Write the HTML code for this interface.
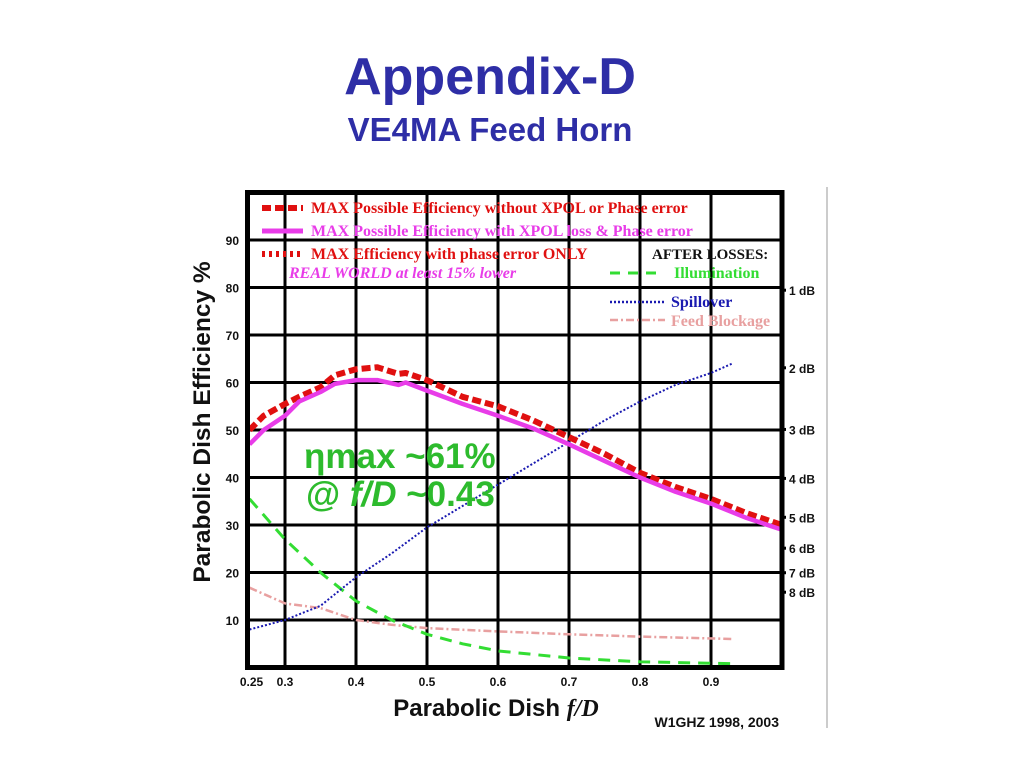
<!DOCTYPE html>
<html><head><meta charset="utf-8"><style>
body{margin:0;background:#fff;width:1024px;height:768px;overflow:hidden;font-family:"Liberation Sans",sans-serif}
</style></head><body>
<svg id="chart" width="1024" height="768" xmlns="http://www.w3.org/2000/svg">
<text x="490" y="94" text-anchor="middle" font-size="52" font-weight="bold" fill="#2e2ea6" font-family="Liberation Sans">Appendix-D</text>
<text x="490" y="141" text-anchor="middle" font-size="33" font-weight="bold" fill="#2e2ea6" font-family="Liberation Sans">VE4MA Feed Horn</text>
<line x1="827" y1="187" x2="827" y2="728" stroke="#999" stroke-width="1"/>
<g id="grid"></g>
<g id="series"></g>
<g id="axes"></g>
<g font-family="Liberation Serif" font-weight="bold" font-size="16">
<line x1="262" y1="208" x2="303" y2="208" stroke="#e01010" stroke-width="6" stroke-dasharray="9,4"/>
<text x="311" y="213" fill="#e01010">MAX Possible Efficiency without XPOL or Phase error</text>
<line x1="262" y1="231" x2="303" y2="231" stroke="#e83ce8" stroke-width="5"/>
<text x="311" y="236" fill="#e83ce8">MAX Possible Efficiency with XPOL loss &amp; Phase error</text>
<line x1="262" y1="254" x2="303" y2="254" stroke="#e01010" stroke-width="6" stroke-dasharray="3,4"/>
<text x="311" y="259" fill="#e01010">MAX Efficiency with phase error ONLY</text>
<text x="289" y="278" fill="#e83ce8" font-style="italic">REAL WORLD at least 15% lower</text>
<text x="652" y="259" fill="#111" font-size="15">AFTER LOSSES:</text>
<line x1="610" y1="273" x2="662" y2="273" stroke="#33dd33" stroke-width="3" stroke-dasharray="10,8"/>
<text x="674" y="278" fill="#33dd33">Illumination</text>
<line x1="610" y1="302" x2="665" y2="302" stroke="#1a1ab0" stroke-width="2.5" stroke-dasharray="2,2"/>
<text x="671" y="307" fill="#1a1ab0">Spillover</text>
<line x1="610" y1="320" x2="665" y2="320" stroke="#e8a0a0" stroke-width="2.5" stroke-dasharray="8,3,2,3"/>
<text x="671" y="326" fill="#e8a0a0">Feed Blockage</text>
</g>
<text x="304" y="468" font-size="35" font-weight="bold" fill="#2dbb2d">ηmax ~61%</text>
<text x="306" y="506" font-size="35" font-weight="bold" fill="#2dbb2d">@ <tspan font-style="italic">f/D</tspan> ~0.43</text>
<text transform="translate(210,422) rotate(-90)" text-anchor="middle" font-size="24.5" font-weight="bold" fill="#111">Parabolic Dish Efficiency %</text>
<text x="496" y="716" text-anchor="middle" font-size="24" font-weight="bold" fill="#111">Parabolic Dish <tspan font-family="Liberation Serif" font-style="italic">f/D</tspan></text>
<text x="779" y="727" text-anchor="end" font-size="14" font-weight="bold" fill="#111">W1GHZ 1998, 2003</text>
</svg>
<script>
const xGrid=[0.3,0.4,0.5,0.6,0.7,0.8,0.9];
const xTickLabels=["0.25","0.3","0.4","0.5","0.6","0.7","0.8","0.9"];
const xTickVals=[0.25,0.3,0.4,0.5,0.6,0.7,0.8,0.9];
const yTicks=[10,20,30,40,50,60,70,80,90];
const dbTicks=[1,2,3,4,5,6,7,8];
const fdA=[0.25,0.27,0.3,0.32,0.35,0.37,0.4,0.43,0.46,0.47,0.5,0.55,0.6,0.65,0.7,0.75,0.8,0.85,0.9,0.95,1.0];
const noXpol=[50,53,55.5,57,59,61.5,62.8,63.2,61.8,62,60.5,57,55,52,48.5,45,41,38,35.5,32.5,30];
const withXpol=[47,50,53,56,58,59.7,60.5,60.5,59.5,60,58.3,55.5,53,50.3,47,43.5,40,37,34.5,31.5,29];
const fdS=[0.25,0.3,0.35,0.4,0.45,0.5,0.55,0.6,0.65,0.7,0.75,0.8,0.85,0.9,0.93];
const spillover=[8,10,13,19,24,29.5,34,38.5,43,47.5,52,56,59.5,62,64];
const fdI=[0.25,0.3,0.35,0.4,0.45,0.5,0.55,0.6,0.7,0.8,0.93];
const illumination=[35.5,27,20,14,10,7,5,3.5,2,1.2,0.8];
const fdB=[0.25,0.3,0.35,0.4,0.45,0.5,0.6,0.7,0.8,0.93];
const blockage=[16.8,13.5,12.5,10,9,8.3,7.6,7,6.5,6];

const NS="http://www.w3.org/2000/svg";
const X=f=>249.5+(f-0.25)*710;
const Y=v=>667.5-4.75*v;
function mk(p,tag,at){const e=document.createElementNS(NS,tag);for(const k in at)e.setAttribute(k,at[k]);p.appendChild(e);return e;}
const grid=document.getElementById('grid'),ser=document.getElementById('series'),ax=document.getElementById('axes');
xGrid.forEach(f=>{const l=mk(grid,'line',{x1:X(f),y1:Y(100),x2:X(f),y2:Y(0),stroke:'#000','stroke-width':3});

});
yTicks.forEach(v=>{const l=mk(grid,'line',{x1:X(0.25),y1:Y(v),x2:X(1.0),y2:Y(v),stroke:'#000','stroke-width':3});

});
const fr=mk(ax,'rect',{x:X(0.25)-2,y:Y(100),width:X(1.0)-X(0.25)+2,height:Y(0)-Y(100),fill:'none',stroke:'#000','stroke-width':5});


yTicks.forEach(v=>{const t=mk(ax,'text',{x:239,y:Y(v)+5,'text-anchor':'end','font-size':12,'font-weight':'bold',fill:'#111'});t.textContent=v;

});
xTickVals.forEach((f,i)=>{const t=mk(ax,'text',{x:X(f)+(i==0?2:0),y:686,'text-anchor':'middle','font-size':12,'font-weight':'bold',fill:'#111'});t.textContent=xTickLabels[i];

});
dbTicks.forEach(d=>{const v=100*Math.pow(10,-d/10);const y=Y(v);
const m=mk(ax,'line',{x1:781,y1:y,x2:786,y2:y,stroke:'#000','stroke-width':3});


const t=mk(ax,'text',{x:789,y:y+5,'font-size':12,'font-weight':'bold',fill:'#111'});t.textContent=d+' dB';

});
function line(xs,ys,name,st){const d=xs.map((f,i)=>(i?'L':'M')+X(f).toFixed(1)+','+Y(ys[i]).toFixed(1)).join('');
const p=mk(ser,'path',Object.assign({d:d,fill:'none','stroke-linejoin':'round'},st));

}
line(fdB,blockage,'feed-blockage-line',{stroke:'#e8a0a0','stroke-width':2.5,'stroke-dasharray':'8,3,2,3'});
line(fdI,illumination,'illumination-line',{stroke:'#33dd33','stroke-width':3,'stroke-dasharray':'12,8'});
line(fdS,spillover,'spillover-line',{stroke:'#1a1ab0','stroke-width':2,'stroke-dasharray':'2,2'});
line(fdA,noXpol,'no-xpol-efficiency-line',{stroke:'#e01010','stroke-width':6,'stroke-dasharray':'9,4'});
line(fdA,withXpol,'with-xpol-efficiency-line',{stroke:'#e83ce8','stroke-width':4.5});
</script>
</body></html>
